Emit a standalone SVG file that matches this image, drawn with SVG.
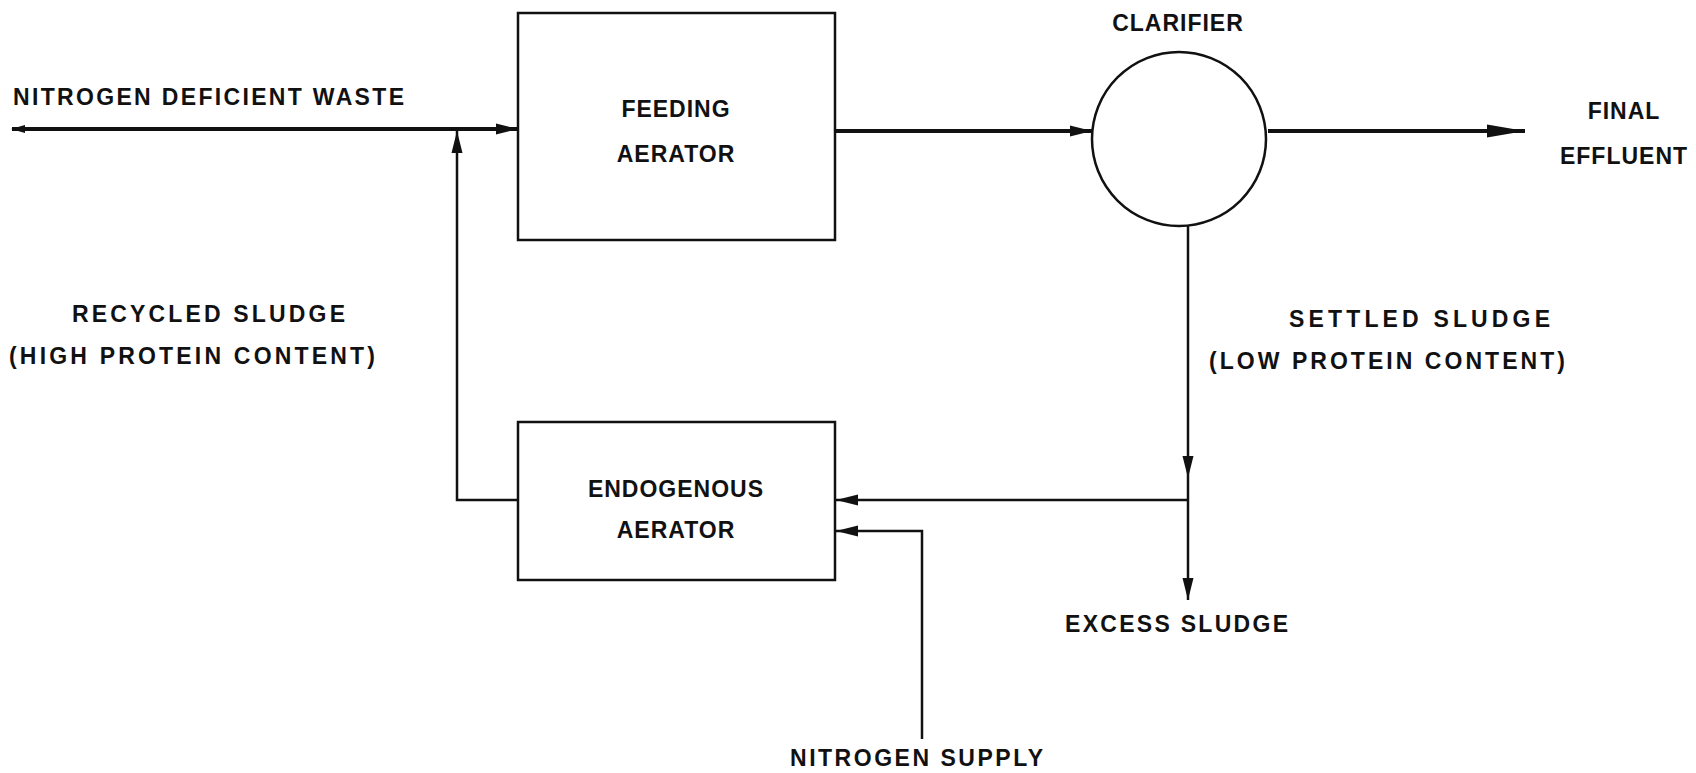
<svg xmlns="http://www.w3.org/2000/svg" width="1696" height="773" viewBox="0 0 1696 773">
<style>
.bg{fill:#ffffff}
.box{fill:none;stroke:#111;stroke-width:2.5}
.line{fill:none;stroke:#111;stroke-width:2.5}
.thick{fill:none;stroke:#111;stroke-width:4}
text{font-family:"Liberation Sans",Arial,sans-serif;font-size:23px;font-weight:bold;fill:#111;letter-spacing:1px}
.c{text-anchor:middle}
</style>
<defs>
<marker id="arr" markerUnits="userSpaceOnUse" markerWidth="24" markerHeight="14" refX="22" refY="7" orient="auto">
<path d="M0,1.5 L22,7 L0,12.5 Z" fill="#111"/>
</marker>
<marker id="arrBig" markerUnits="userSpaceOnUse" markerWidth="40" markerHeight="16" refX="38" refY="8" orient="auto">
<path d="M0,1.5 L38,8 L0,14.5 Z" fill="#111"/>
</marker>
<marker id="tail" markerUnits="userSpaceOnUse" markerWidth="16" markerHeight="12" refX="1" refY="6" orient="auto">
<path d="M0,6 L14,2 L14,10 Z" fill="#111"/>
</marker>
</defs>
<rect class="bg" x="0" y="0" width="1696" height="773"/>

<g id="connectors">
<path class="thick" d="M12,129 H518" marker-start="url(#tail)" marker-end="url(#arr)"/>
<path class="thick" d="M835,131 H1092" marker-end="url(#arr)"/>
<path class="thick" d="M1268,131 H1525" marker-end="url(#arrBig)"/>
<path class="line" d="M1188,225 V478" marker-end="url(#arr)"/>
<path class="line" d="M1188,478 V600" marker-end="url(#arr)"/>
<path class="line" d="M1188,500 H836" marker-end="url(#arr)"/>
<path class="line" d="M922,739 V531 H836" marker-end="url(#arr)"/>
<path class="line" d="M518,500 H457 V131" marker-end="url(#arr)"/>
</g>

<g id="label-waste">
<text x="13" y="105" textLength="392" lengthAdjust="spacing">NITROGEN DEFICIENT WASTE</text>
</g>

<g id="feeding-aerator">
<rect class="box" x="518" y="13" width="317" height="227"/>
<text class="c" x="676" y="117">FEEDING</text>
<text class="c" x="676" y="162">AERATOR</text>
</g>

<g id="clarifier">
<circle class="box" cx="1179" cy="139" r="87"/>
<text class="c" x="1178" y="31">CLARIFIER</text>
</g>

<g id="final-effluent">
<text class="c" x="1624" y="119">FINAL</text>
<text class="c" x="1624" y="164">EFFLUENT</text>
</g>

<g id="endogenous-aerator">
<rect class="box" x="518" y="422" width="317" height="158"/>
<text class="c" x="676" y="497">ENDOGENOUS</text>
<text class="c" x="676" y="538">AERATOR</text>
</g>

<g id="label-recycled">
<text class="c" x="209" y="322" textLength="274" lengthAdjust="spacing">RECYCLED SLUDGE</text>
<text x="9" y="364" textLength="367" lengthAdjust="spacing">(HIGH PROTEIN CONTENT)</text>
</g>

<g id="label-settled">
<text class="c" x="1420" y="327" textLength="262" lengthAdjust="spacing">SETTLED SLUDGE</text>
<text x="1209" y="369" textLength="357" lengthAdjust="spacing">(LOW PROTEIN CONTENT)</text>
</g>

<g id="label-excess">
<text x="1065" y="632" textLength="224" lengthAdjust="spacing">EXCESS SLUDGE</text>
</g>

<g id="label-nitrogen-supply">
<text x="790" y="766" textLength="254" lengthAdjust="spacing">NITROGEN SUPPLY</text>
</g>
</svg>
